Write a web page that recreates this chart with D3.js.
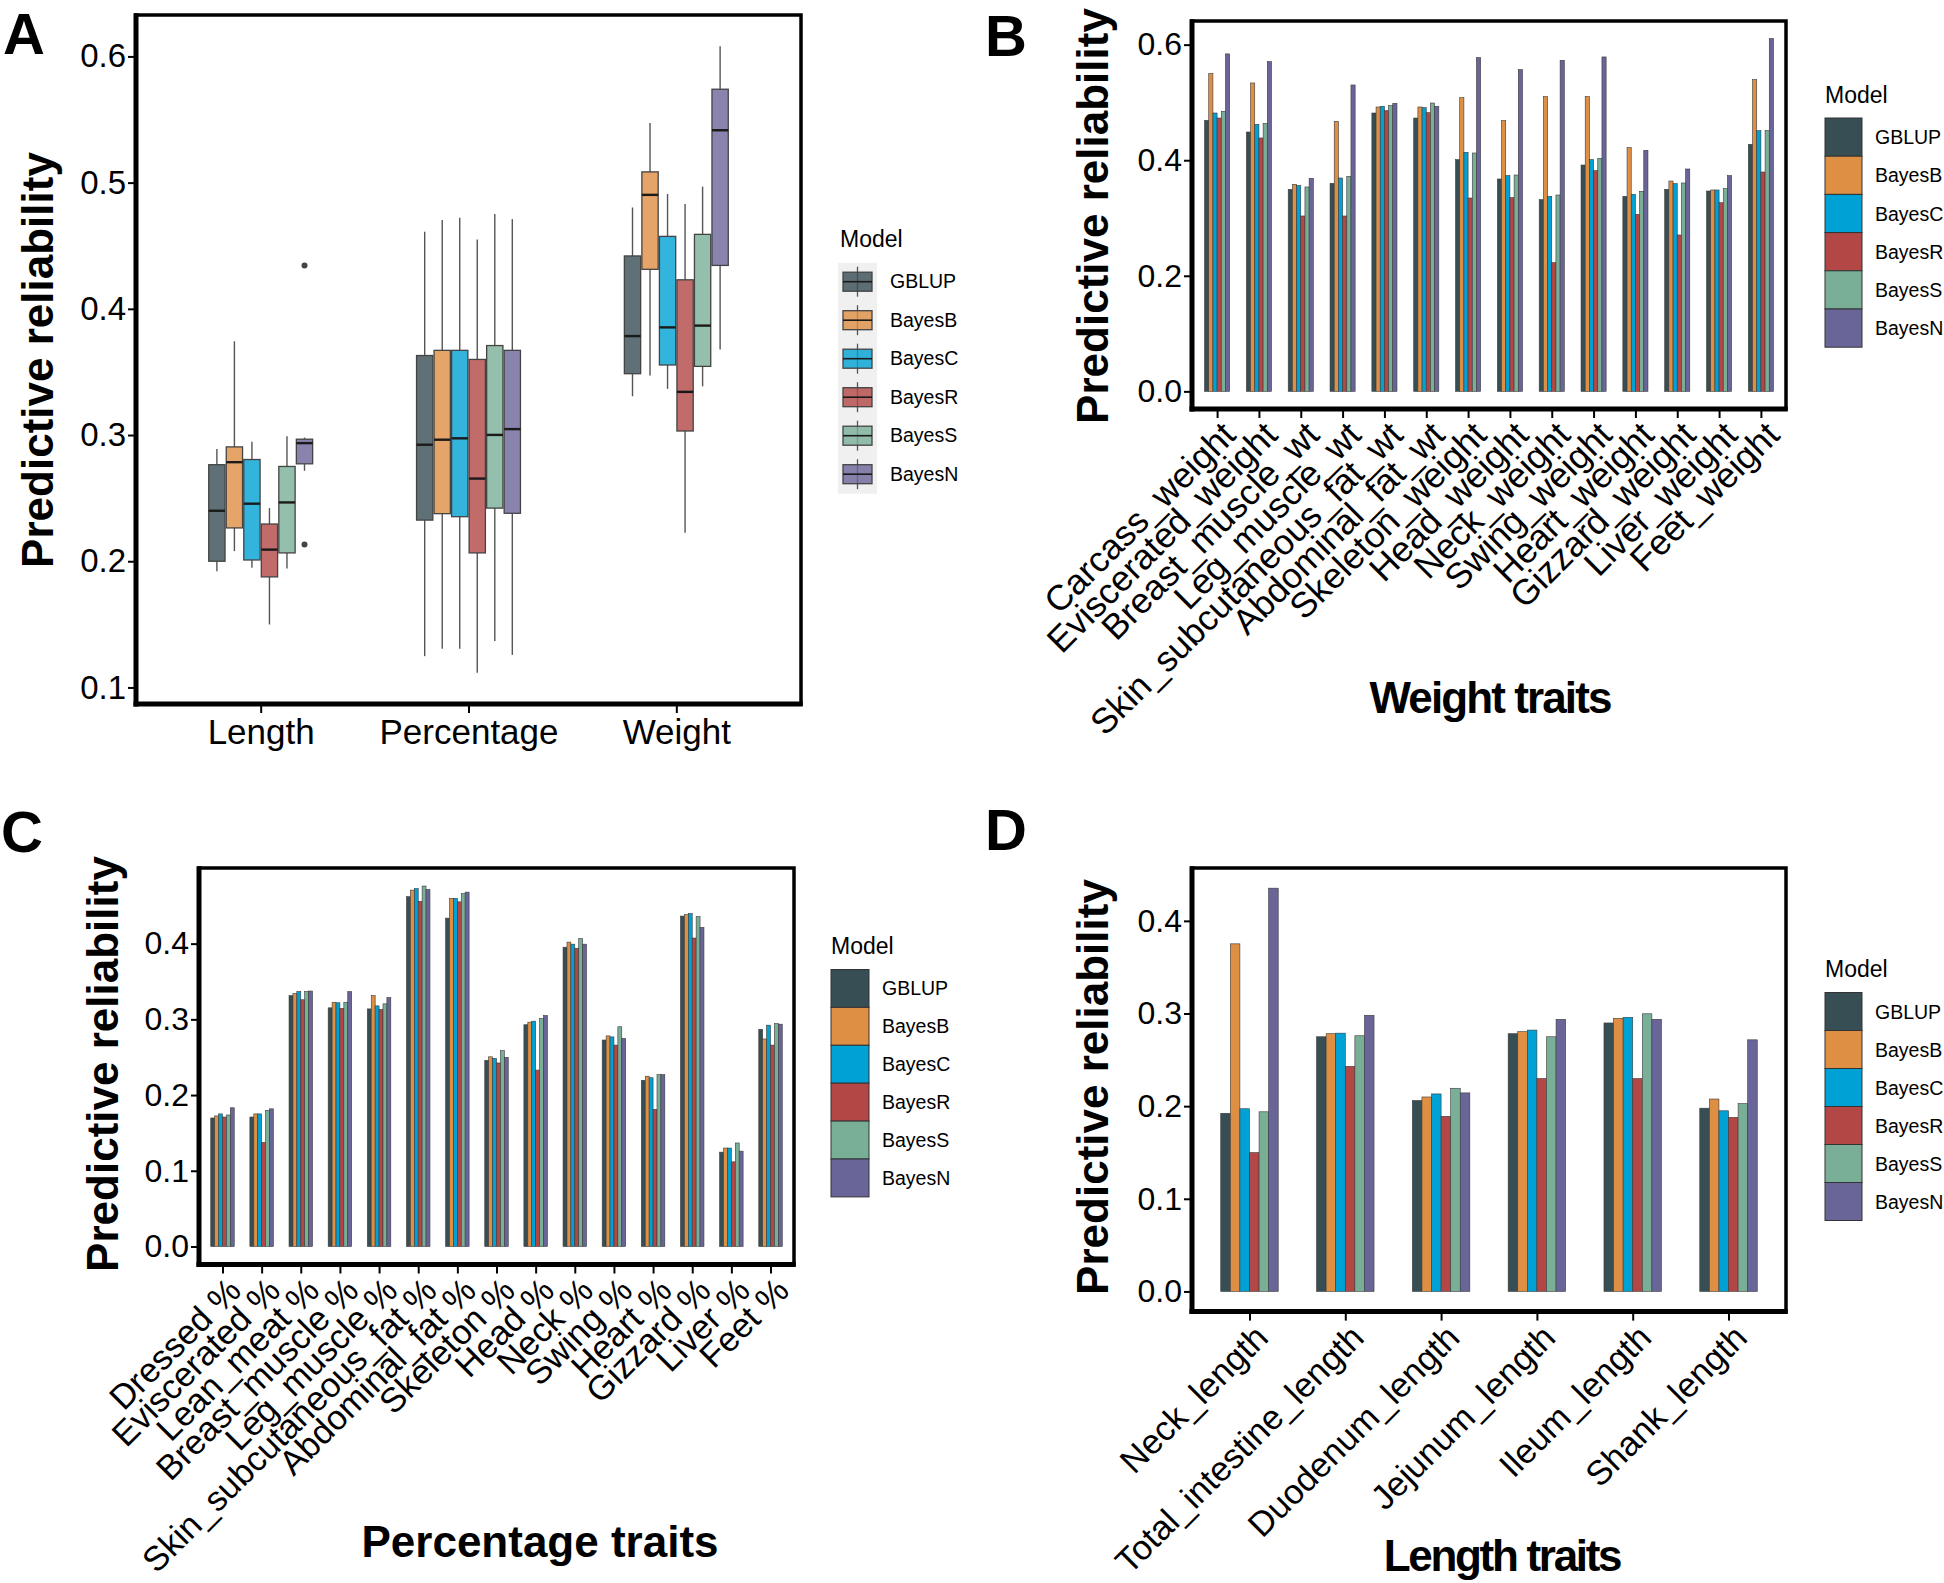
<!DOCTYPE html>
<html><head><meta charset="utf-8">
<script src="https://cdn.jsdelivr.net/npm/d3@7"></script>
<style>
body{margin:0;background:#fff}
svg{display:block}
</style>
</head><body>
<svg id="chart" width="1944" height="1583"></svg>
<script>
// ---------------- DATA ----------------
const models = ["GBLUP","BayesB","BayesC","BayesR","BayesS","BayesN"];
const colors = ["#374E55","#DF8F44","#00A1D5","#B24745","#79AF97","#6A6599"];

// Panel A: box statistics per model: [lower whisker, Q1, median, Q3, upper whisker]
const boxGroups = ["Length","Percentage","Weight"];
const lengthBoxes = [
  [0.192, 0.200, 0.240, 0.2765, 0.289],
  [0.208, 0.2264, 0.2785, 0.2906, 0.3743],
  [0.1948, 0.201, 0.2456, 0.2806, 0.2947],
  [0.1499, 0.1876, 0.2092, 0.2295, 0.2421],
  [0.1942, 0.2066, 0.2466, 0.2751, 0.2991],
  [0.2717, 0.2772, 0.2936, 0.2967, 0.298]
];
const percentageBoxes = [
  [0.1248, 0.2326, 0.2923, 0.363, 0.4611],
  [0.1306, 0.2377, 0.2963, 0.3671, 0.4704],
  [0.1306, 0.2353, 0.2974, 0.3671, 0.4721],
  [0.1117, 0.2066, 0.2655, 0.3599, 0.4549],
  [0.1368, 0.2421, 0.3001, 0.3709, 0.4752],
  [0.1258, 0.238, 0.3047, 0.3671, 0.4711]
];
const weightBoxes = [
  [0.3307, 0.3486, 0.3784, 0.4419, 0.4803],
  [0.3472, 0.4313, 0.4903, 0.5085, 0.5473],
  [0.3366, 0.3555, 0.3853, 0.4574, 0.491],
  [0.2226, 0.3032, 0.3342, 0.423, 0.4831],
  [0.3386, 0.3544, 0.3867, 0.459, 0.4968],
  [0.3678, 0.4344, 0.5415, 0.574, 0.608]
];
// outliers: [group, model, value]
const boxOutliers = [["Length","BayesN",0.4344],["Length","BayesN",0.2133]];
const boxTicks = [0.1,0.2,0.3,0.4,0.5,0.6];

// Panel B: weight traits (values in model order)
const weightTraits = ["Carcass_weight","Eviscerated_weight","Breast_muscle_wt","Leg_muscle_wt",
  "Skin_subcutaneous_fat_wt","Abdominal_fat_wt","Skeleton_weight","Head_weight","Neck_weight",
  "Swing_weight","Heart_weight","Gizzard_weight","Liver_weight","Feet_weight"];
const weightValues = [
  [0.469, 0.550, 0.4817, 0.473, 0.4846, 0.584],
  [0.4488, 0.5337, 0.4621, 0.4385, 0.4638, 0.5706],
  [0.3496, 0.3583, 0.356, 0.3035, 0.3537, 0.3687],
  [0.360, 0.4673, 0.3692, 0.3035, 0.3721, 0.5302],
  [0.4817, 0.4921, 0.4933, 0.4858, 0.4944, 0.4985],
  [0.473, 0.4921, 0.491, 0.4823, 0.499, 0.4933],
  [0.401, 0.5083, 0.4137, 0.3346, 0.4125, 0.5775],
  [0.3675, 0.4685, 0.3733, 0.3352, 0.3744, 0.5567],
  [0.3317, 0.510, 0.3375, 0.2227, 0.3398, 0.5729],
  [0.3917, 0.510, 0.401, 0.3819, 0.4033, 0.5787],
  [0.3375, 0.4217, 0.341, 0.3063, 0.3462, 0.4171],
  [0.3496, 0.364, 0.3594, 0.2706, 0.3606, 0.3848],
  [0.3467, 0.3485, 0.3485, 0.3265, 0.3508, 0.3733],
  [0.4275, 0.5394, 0.4512, 0.3796, 0.4512, 0.6104]
];
const weightTicks = [0.0,0.2,0.4,0.6];

// Panel C: percentage traits
const percentageTraits = ["Dressed %","Eviscerated %","Lean_meat %","Breast_muscle %","Leg_muscle %",
  "Skin_subcutaneous_fat %","Abdominal_fat %","Skeleton %","Head %","Neck %","Swing %","Heart %",
  "Gizzard %","Liver %","Feet %"];
const percentageValues = [
  [0.1697, 0.1724, 0.1751, 0.171, 0.1737, 0.1832],
  [0.171, 0.1751, 0.1751, 0.1374, 0.1798, 0.1818],
  [0.3313, 0.334, 0.3367, 0.3259, 0.3367, 0.3374],
  [0.3152, 0.3226, 0.3219, 0.3145, 0.3226, 0.3367],
  [0.3138, 0.3313, 0.3178, 0.3131, 0.3205, 0.3286],
  [0.462, 0.4707, 0.4727, 0.4559, 0.4761, 0.4714],
  [0.4337, 0.4599, 0.4599, 0.4552, 0.466, 0.468],
  [0.2458, 0.2505, 0.2485, 0.2424, 0.2586, 0.2498],
  [0.2929, 0.2963, 0.2976, 0.233, 0.301, 0.305],
  [0.3953, 0.402, 0.3993, 0.3939, 0.4067, 0.3993],
  [0.2727, 0.2781, 0.2768, 0.266, 0.2902, 0.2747],
  [0.2195, 0.2249, 0.2229, 0.1811, 0.2269, 0.2269],
  [0.4364, 0.4384, 0.4397, 0.4074, 0.4357, 0.4215],
  [0.1246, 0.130, 0.130, 0.1118, 0.1367, 0.1259],
  [0.2869, 0.2741, 0.2923, 0.266, 0.2943, 0.2936]
];
const percentageTicks = [0.0,0.1,0.2,0.3,0.4];

// Panel D: length traits
const lengthTraits = ["Neck_length","Total_intestine_length","Duodenum_length","Jejunum_length","Ileum_length","Shank_length"];
const lengthValues = [
  [0.1923, 0.3752, 0.1972, 0.1499, 0.1939, 0.4353],
  [0.2749, 0.2782, 0.2788, 0.243, 0.276, 0.2981],
  [0.2061, 0.2099, 0.2132, 0.189, 0.2193, 0.2143],
  [0.2782, 0.2804, 0.2821, 0.2298, 0.2749, 0.2937],
  [0.2898, 0.2948, 0.2959, 0.2298, 0.2997, 0.2937],
  [0.1978, 0.2077, 0.195, 0.1879, 0.2028, 0.2716]
];
const lengthTicks = [0.0,0.1,0.2,0.3,0.4];

// ---------------- DRAWING ----------------
const FONT = '"Liberation Sans", Arial, Helvetica, sans-serif';
const svg = d3.select("#chart");
const color = d3.scaleOrdinal().domain(models).range(colors);
const fmt = d3.format(".1f");

function txt(g, s, x, y, size, opts = {}) {
  const t = g.append("text").attr("x", x).attr("y", y).text(s)
    .attr("font-family", FONT).attr("font-size", size).attr("fill", "#000");
  if (opts.bold) t.attr("font-weight", "bold");
  if (opts.anchor) t.attr("text-anchor", opts.anchor);
  if (opts.ls) t.attr("letter-spacing", opts.ls);
  if (opts.transform) t.attr("transform", opts.transform);
  return t;
}

function frame(g, b) {
  g.append("rect").attr("x", b.x0).attr("y", b.y0).attr("width", b.x1 - b.x0).attr("height", b.y1 - b.y0)
    .attr("fill", "none").attr("stroke", "#000").attr("stroke-width", 3.5);
  g.append("line").attr("x1", b.x0).attr("x2", b.x0).attr("y1", b.y0 - 1.75).attr("y2", b.y1 + 2.5)
    .attr("stroke", "#000").attr("stroke-width", 5);
  g.append("line").attr("x1", b.x0 - 2.5).attr("x2", b.x1 + 1.75).attr("y1", b.y1).attr("y2", b.y1)
    .attr("stroke", "#000").attr("stroke-width", 5);
}

function leftAxis(g, y, b, ticks, fs) {
  const ax = g.append("g").attr("transform", `translate(${b.x0},0)`)
    .call(d3.axisLeft(y).tickValues(ticks).tickFormat(fmt).tickSize(8).tickPadding(2));
  ax.select(".domain").remove();
  ax.selectAll(".tick line").attr("stroke", "#000").attr("stroke-width", 2);
  ax.selectAll(".tick text").attr("font-size", fs).attr("font-family", FONT).attr("fill", "#000");
}

function bottomAxis(g, x, b, fs, rotated) {
  const ax = g.append("g").attr("transform", `translate(0,${b.y1})`)
    .call(d3.axisBottom(x).tickSize(9).tickPadding(6));
  ax.select(".domain").remove();
  ax.selectAll(".tick line").attr("stroke", "#000").attr("stroke-width", 2);
  const t = ax.selectAll(".tick text").attr("font-size", fs).attr("font-family", FONT).attr("fill", "#000");
  if (rotated) {
    t.attr("x", 0).attr("y", 0).attr("dy", 0).attr("text-anchor", "end")
      .attr("transform", "translate(20,28) rotate(-45)");
  } else {
    t.attr("y", 40).attr("dy", 0);
  }
}

function yTitle(g, x, cy) {
  txt(g, "Predictive reliability", x, 0, 44, {bold: true, anchor: "middle",
    transform: `translate(${x},${cy}) rotate(-90)`}).attr("x", 0).attr("y", 0);
}

function barLegend(g, lx, titleY, keyY, keyW, keyH, labelX) {
  txt(g, "Model", lx, titleY, 23);
  models.forEach((m, i) => {
    g.append("rect").attr("x", lx).attr("y", keyY + i * keyH).attr("width", keyW).attr("height", keyH)
      .attr("fill", color(m)).attr("stroke", "#333").attr("stroke-width", 1);
    txt(g, m, labelX, keyY + i * keyH + keyH / 2 + 7, 19.5);
  });
}

function barPanel(cfg) {
  const g = svg.append("g");
  const b = cfg.box;
  const maxV = d3.max(cfg.values.flat());
  const pad = maxV * 0.05;
  const y = d3.scaleLinear().domain([-pad, maxV + pad]).range([b.y1, b.y0]);
  const x = d3.scalePoint().domain(cfg.cats).range([b.x0, b.x1]).padding(0.6);
  const half = x.step() * 0.3;
  const inner = d3.scaleBand().domain(models).range([-half, half]);
  cfg.cats.forEach((c, ci) => {
    cfg.values[ci].forEach((v, mi) => {
      g.append("rect")
        .attr("x", x(c) + inner(models[mi]))
        .attr("y", y(v))
        .attr("width", inner.bandwidth())
        .attr("height", y(0) - y(v))
        .attr("fill", colors[mi])
        .attr("stroke", "#3a3a3a").attr("stroke-width", 0.6);
    });
  });
  leftAxis(g, y, b, cfg.ticks, cfg.tickFs);
  bottomAxis(g, x, b, cfg.xFs, true);
  frame(g, b);
  yTitle(g, cfg.yTitleX, cfg.yTitleY);
  txt(g, cfg.xTitle, cfg.xTitlePos[0], cfg.xTitlePos[1], 44, {bold: true, anchor: "middle", ls: cfg.xTitleLs});
  txt(g, cfg.letter, cfg.letterPos[0], cfg.letterPos[1], 58, {bold: true});
  barLegend(g, cfg.legend.x, cfg.legend.titleY, cfg.legend.keyY, cfg.legend.keyW, cfg.legend.keyH, cfg.legend.labelX);
}

// ---------- Panel A (boxplots) ----------
(function () {
  const g = svg.append("g");
  const b = {x0: 136, x1: 801, y0: 15, y1: 704};
  const boxData = [lengthBoxes, percentageBoxes, weightBoxes];
  const all = boxData.flat(2).concat(boxOutliers.map(o => o[2]));
  const lo = d3.min(all), hi = d3.max(all), pad = (hi - lo) * 0.05;
  const y = d3.scaleLinear().domain([lo - pad, hi + pad]).range([b.y1, b.y0]);
  const x = d3.scalePoint().domain(boxGroups).range([b.x0, b.x1]).padding(0.6);
  const half = x.step() * 0.25;
  const inner = d3.scaleBand().domain(models).range([-half, half]).paddingInner(0.07);
  boxGroups.forEach((grp, gi) => {
    boxData[gi].forEach((s, mi) => {
      const m = models[mi];
      const x0 = x(grp) + inner(m), w = inner.bandwidth(), cx = x0 + w / 2;
      g.append("line").attr("x1", cx).attr("x2", cx).attr("y1", y(s[4])).attr("y2", y(s[3]))
        .attr("stroke", "#555").attr("stroke-width", 1.4);
      g.append("line").attr("x1", cx).attr("x2", cx).attr("y1", y(s[1])).attr("y2", y(s[0]))
        .attr("stroke", "#555").attr("stroke-width", 1.4);
      g.append("rect").attr("x", x0).attr("y", y(s[3])).attr("width", w).attr("height", y(s[1]) - y(s[3]))
        .attr("fill", color(m)).attr("fill-opacity", 0.8).attr("stroke", "#444").attr("stroke-width", 1.3);
      g.append("line").attr("x1", x0).attr("x2", x0 + w).attr("y1", y(s[2])).attr("y2", y(s[2]))
        .attr("stroke", "#1a1a1a").attr("stroke-width", 2.4);
    });
  });
  boxOutliers.forEach(o => {
    g.append("circle").attr("cx", x(o[0]) + inner(o[1]) + inner.bandwidth() / 2).attr("cy", y(o[2]))
      .attr("r", 3).attr("fill", "#444");
  });
  leftAxis(g, y, b, boxTicks, 33);
  bottomAxis(g, x, b, 35, false);
  frame(g, b);
  yTitle(g, 53, 360);
  txt(g, "A", 3, 54, 58, {bold: true});
  // legend
  txt(g, "Model", 840, 247, 23);
  const keyH = 38.5, keyTop = 262.7;
  g.append("rect").attr("x", 838).attr("y", keyTop).attr("width", 39).attr("height", keyH * 6).attr("fill", "#F0F0F0");
  models.forEach((m, i) => {
    const t = keyTop + i * keyH;
    g.append("line").attr("x1", 857.5).attr("x2", 857.5).attr("y1", t + 4).attr("y2", t + 34)
      .attr("stroke", "#555").attr("stroke-width", 1.3);
    g.append("rect").attr("x", 843).attr("y", t + 9.5).attr("width", 29).attr("height", 19)
      .attr("fill", color(m)).attr("fill-opacity", 0.8).attr("stroke", "#444").attr("stroke-width", 1.3);
    g.append("line").attr("x1", 843).attr("x2", 872).attr("y1", t + 19).attr("y2", t + 19)
      .attr("stroke", "#1a1a1a").attr("stroke-width", 1.6);
    txt(g, m, 890, t + 25.6, 19.5);
  });
})();

// ---------- Panel B ----------
barPanel({
  cats: weightTraits, values: weightValues, ticks: weightTicks,
  box: {x0: 1192, x1: 1786, y0: 21, y1: 409},
  tickFs: 32, xFs: 35.5,
  yTitleX: 1108, yTitleY: 216,
  xTitle: "Weight traits", xTitlePos: [1490, 713], xTitleLs: -1.9,
  letter: "B", letterPos: [985, 56],
  legend: {x: 1825, titleY: 103, keyY: 118, keyW: 37, keyH: 38.2, labelX: 1875}
});

// ---------- Panel C ----------
barPanel({
  cats: percentageTraits, values: percentageValues, ticks: percentageTicks,
  box: {x0: 199, x1: 794, y0: 868, y1: 1264.5},
  tickFs: 32, xFs: 34.5,
  yTitleX: 118, yTitleY: 1064,
  xTitle: "Percentage traits", xTitlePos: [540, 1557], xTitleLs: 0,
  letter: "C", letterPos: [1, 852],
  legend: {x: 831, titleY: 954, keyY: 969.5, keyW: 38, keyH: 37.9, labelX: 882}
});

// ---------- Panel D ----------
barPanel({
  cats: lengthTraits, values: lengthValues, ticks: lengthTicks,
  box: {x0: 1192, x1: 1786, y0: 868, y1: 1311.6},
  tickFs: 32, xFs: 34.5,
  yTitleX: 1108, yTitleY: 1087,
  xTitle: "Length traits", xTitlePos: [1502, 1571], xTitleLs: -2.3,
  letter: "D", letterPos: [985, 850],
  legend: {x: 1825, titleY: 977, keyY: 992.5, keyW: 37, keyH: 38, labelX: 1875}
});
</script>
</body></html>
